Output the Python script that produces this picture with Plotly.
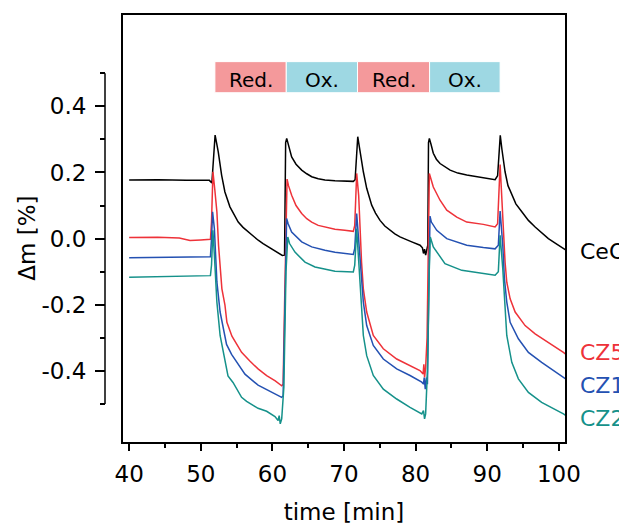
import plotly.graph_objects as go

# ---------------- data ----------------
t_ceo2 = [40, 44, 48, 51.2, 51.55, 51.8, 52.0, 52.2, 52.44, 52.91, 53.37, 54.07, 54.6, 55.23, 55.9,
          56.63, 57.3, 58.02, 58.7, 59.42, 60.1, 60.82, 61.38, 61.7, 61.85, 62.0, 62.2, 62.69, 63.3, 64.09,
          64.8, 65.49, 66.4, 67.34, 68.74, 70.1, 71.3, 71.55, 71.75, 71.92, 72.05, 72.23, 72.7, 73.17, 73.87,
          74.4, 75.03, 75.7, 76.43, 77.1, 77.82, 78.6, 79.46, 80.62, 80.95, 81.1, 81.25, 81.4, 81.55, 81.7,
          81.8, 81.92, 82.15, 82.47, 82.9, 83.41, 84.82, 85.9, 87.14, 88.2, 89.46, 90.6, 91.1, 91.45, 91.65,
          91.82, 92.05, 92.49, 92.9, 93.43, 94.0, 94.83, 95.75, 96.69, 97.6, 98.54, 99.6, 100.64, 101]
v_ceo2 = [0.177, 0.178, 0.176, 0.176, 0.168, 0.24, 0.313, 0.29, 0.262, 0.192, 0.141, 0.096, 0.073, 0.05, 0.034,
          0.02, 0.007, -0.005, -0.015, -0.025, -0.035, -0.044, -0.051, -0.05, 0.29, 0.303, 0.285, 0.247, 0.225, 0.207,
          0.196, 0.187, 0.181, 0.177, 0.175, 0.174, 0.173, 0.178, 0.25, 0.308, 0.29, 0.262, 0.202, 0.152, 0.101,
          0.077, 0.055, 0.038, 0.025, 0.014, 0.005, -0.003, -0.01, -0.02, -0.028, -0.045, -0.032, -0.05, -0.035, -0.02,
          0.29, 0.303, 0.285, 0.258, 0.24, 0.227, 0.207, 0.198, 0.192, 0.188, 0.184, 0.18, 0.178, 0.19, 0.27,
          0.312, 0.27, 0.202, 0.16, 0.131, 0.105, 0.081, 0.055, 0.035, 0.018, 0.0, -0.015, -0.03, -0.035]

t_cz5 = [40, 44, 47, 48.5, 50, 51.35, 51.5, 51.7, 51.95, 52.25, 52.48, 52.7, 52.95, 53.37, 53.65, 54.35,
         55.05, 55.7, 56.85, 58.0, 59.2, 60.4, 61.3, 61.5, 61.7, 61.9, 62.05, 62.25, 62.69, 63.3, 64.09,
         64.8, 65.49, 66.4, 67.34, 68.74, 70.1, 71.3, 71.5, 71.77, 72.05, 72.23, 72.45, 72.7, 73.17, 74.09,
         75.49, 77.36, 79.22, 80.6, 81.05, 81.15, 81.25, 81.4, 81.6, 81.75, 81.92, 82.47, 83.41, 84.35,
         85.75, 87.14, 89.46, 91.1, 91.45, 91.8, 92.25, 92.49, 92.73, 93.2, 93.9, 95.29, 96.69, 98.54,
         100.64, 101]
v_cz5 = [0.003, 0.004, 0.002, -0.006, -0.004, -0.002, 0.05, 0.202, 0.15, 0.081, -0.02, -0.09, -0.152, -0.2, -0.253, -0.295,
         -0.32, -0.344, -0.37, -0.394, -0.414, -0.43, -0.445, -0.44, -0.2, 0.05, 0.18, 0.16, 0.131, 0.1, 0.076,
         0.06, 0.05, 0.04, 0.035, 0.028, 0.025, 0.022, 0.04, 0.197, 0.13, 0.03, -0.071, -0.152, -0.222, -0.293,
         -0.333, -0.364, -0.384, -0.399, -0.409, -0.38, -0.42, -0.39, -0.3, 0.0, 0.197, 0.156, 0.116, 0.086,
         0.065, 0.05, 0.043, 0.035, 0.045, 0.224, 0.03, -0.071, -0.132, -0.182, -0.222, -0.263, -0.288, -0.313,
         -0.344, -0.35]

t_cz10 = [40, 45, 49, 51.35, 51.5, 51.65, 51.9, 52.25, 52.7, 53.4, 53.6, 54.3, 55.45, 56.17, 58.0, 60.1,
          61.3, 61.5, 61.7, 61.99, 62.2, 62.69, 64.09, 65.49, 67.34, 68.74, 71.3, 71.5, 71.77, 72.05, 72.23,
          72.45, 72.7, 73.17, 74.09, 75.49, 77.36, 79.22, 80.86, 81.1, 81.2, 81.35, 81.5, 81.65, 81.8, 82.01,
          82.2, 82.95, 84.35, 87.14, 89.46, 91.1, 91.55, 91.8, 92.17, 92.4, 92.73, 93.2, 94.35, 95.75, 97.6,
          100.64, 101]
v_cz10 = [-0.058, -0.057, -0.055, -0.055, 0.0, 0.081, 0.03, -0.131, -0.222, -0.293, -0.32, -0.35, -0.389, -0.41, -0.443, -0.466,
          -0.48, -0.475, -0.2, 0.061, 0.045, 0.02, -0.01, -0.025, -0.035, -0.041, -0.048, -0.03, 0.076, 0.0, -0.05,
          -0.131, -0.192, -0.263, -0.323, -0.364, -0.394, -0.414, -0.434, -0.44, -0.42, -0.455, -0.42, -0.44, -0.2, 0.068,
          0.05, 0.025, 0.0, -0.02, -0.027, -0.031, -0.02, 0.083, -0.02, -0.121, -0.192, -0.253, -0.303, -0.344, -0.374,
          -0.419, -0.425]

t_cz20 = [40, 45, 49, 51.35, 51.5, 51.69, 51.9, 52.25, 52.7, 53.4, 53.8, 54.5, 55.7, 56.4, 58.0, 59.2,
          60.36, 60.8, 60.95, 61.1, 61.3, 61.6, 61.9, 62.15, 62.4, 63.15, 64.55, 65.95, 67.34, 68.74, 71.3,
          71.5, 71.77, 72.0, 72.23, 72.45, 72.7, 73.17, 74.09, 75.49, 77.36, 79.22, 80.86, 81.1, 81.25, 81.4,
          81.65, 81.9, 82.05, 82.47, 84.1, 86.45, 89.25, 91.1, 91.55, 91.8, 92.17, 92.4, 92.73, 93.43, 94.35,
          95.75, 97.6, 100.64, 101]
v_cz20 = [-0.117, -0.115, -0.113, -0.112, -0.08, 0.025, -0.05, -0.192, -0.293, -0.374, -0.415, -0.435, -0.48, -0.492, -0.513, -0.522,
          -0.538, -0.55, -0.535, -0.56, -0.545, -0.45, -0.1, 0.005, -0.015, -0.041, -0.071, -0.086, -0.093, -0.099, -0.101,
          -0.08, 0.03, -0.05, -0.131, -0.212, -0.293, -0.354, -0.414, -0.455, -0.485, -0.51, -0.53, -0.52, -0.545, -0.53,
          -0.4, -0.1, 0.005, -0.025, -0.076, -0.096, -0.106, -0.111, -0.1, 0.01, -0.091, -0.192, -0.293, -0.374, -0.424,
          -0.465, -0.495, -0.53, -0.535]

series_names = ["CeO<sub>2</sub>", "CZ5", "CZ10", "CZ20"]
series_colors = ["#000000", "#EE3239", "#2451B2", "#15918A"]
label_values = [-0.045, -0.344, -0.445, -0.545]

phase_edges = [51.97, 61.94, 71.89, 81.95, 91.8]
phase_labels = ["Red.", "Ox.", "Red.", "Ox."]
phase_colors = ["#F4999B", "#9ED8E3", "#F4999B", "#9ED8E3"]
phase_band = [0.441, 0.535]

x_ticks = [40, 50, 60, 70, 80, 90, 100]
x_minor = [45, 55, 65, 75, 85, 95]
y_ticks = [-0.4, -0.2, 0.0, 0.2, 0.4]
y_ticktext = ["-0.4", "-0.2", "0.0", "0.2", "0.4"]
y_minor = [-0.5, -0.3, -0.1, 0.1, 0.3, 0.5]
y_line_span = [-0.5, 0.5]

FONT = "DejaVu Sans, Verdana, sans-serif"

fig = go.Figure()
for t, v, name, col in zip([t_ceo2, t_cz5, t_cz10, t_cz20], [v_ceo2, v_cz5, v_cz10, v_cz20],
                           series_names, series_colors):
    fig.add_trace(go.Scatter(x=t, y=v, mode="lines", name=name,
                             line=dict(color=col, width=1.5), showlegend=False))

# phase boxes
for i, lab in enumerate(phase_labels):
    x0, x1 = phase_edges[i], phase_edges[i + 1]
    fig.add_shape(type="rect", xref="x", yref="y", x0=x0, x1=x1, y0=phase_band[0], y1=phase_band[1],
                  fillcolor=phase_colors[i], line=dict(color="white", width=1), layer="below")
    fig.add_annotation(x=(x0 + x1) / 2, y=(phase_band[0] + phase_band[1]) / 2 - 0.008, xref="x", yref="y",
                       text=lab, showarrow=False, font=dict(family=FONT, size=20, color="black"))

# series labels on the right
for name, col, yv in zip(series_names, series_colors, label_values):
    fig.add_annotation(x=1.026, y=yv, xref="paper", yref="y", text=name, showarrow=False,
                       xanchor="left", yanchor="middle", font=dict(family=FONT, size=22, color=col))

# y-axis title, centred on the detached axis line
fig.add_annotation(x=-0.171, y=0.0, xref="paper", yref="y", text="Δm [%]", textangle=-90,
                   showarrow=False, xanchor="center", yanchor="middle",
                   font=dict(family=FONT, size=23, color="black"))

xd0 = 17 / 461
# frame
fig.add_shape(type="rect", xref="paper", yref="paper", x0=xd0, x1=1, y0=0, y1=1,
              line=dict(color="black", width=2), layer="above")
# detached y axis line
fig.add_shape(type="line", xref="paper", yref="y", x0=0, x1=0, y0=y_line_span[0], y1=y_line_span[1],
              line=dict(color="black", width=1.5))

fig.update_layout(
    width=619, height=519,
    margin=dict(l=97, r=61, t=6, b=77),
    paper_bgcolor="white", plot_bgcolor="white",
    font=dict(family=FONT, size=23, color="black"),
    xaxis=dict(domain=[xd0, 1], range=[39, 101], showgrid=False, zeroline=False, showline=False,
               tickmode="array", tickvals=x_ticks, ticks="outside", ticklen=7, tickwidth=1.5,
               tickcolor="black", ticklabelstandoff=3,
               minor=dict(tickmode="array", tickvals=x_minor, ticks="outside", ticklen=4, tickwidth=1.5,
                          tickcolor="black"),
               title=dict(text="time [min]", font=dict(size=23), standoff=18)),
    yaxis=dict(anchor="free", position=0, range=[-0.618, 0.679], showgrid=False, zeroline=False,
               showline=False, tickmode="array", tickvals=y_ticks, ticktext=y_ticktext,
               ticks="outside", ticklen=10, tickwidth=1.5, tickcolor="black", ticklabelstandoff=4,
               minor=dict(tickmode="array", tickvals=y_minor, ticks="outside", ticklen=5, tickwidth=1.5,
                          tickcolor="black")),
)

fig.write_html("out.html")
